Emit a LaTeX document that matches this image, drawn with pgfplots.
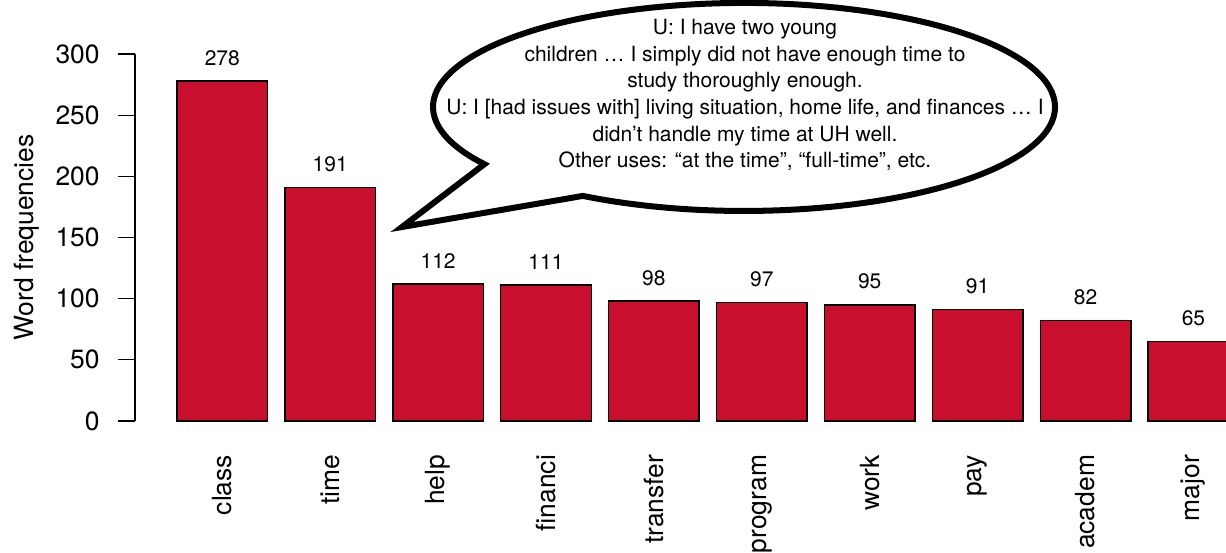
\documentclass[border=0pt]{standalone}
\usepackage{fontspec}
\setmainfont{TeX Gyre Heros}
\usepackage{pgfplots}
\pgfplotsset{compat=1.18}
\definecolor{uhred}{RGB}{200,16,46}
\begin{document}
\begin{tikzpicture}
\path[use as bounding box, clip] (-67.5pt,-65.5pt) rectangle (545.5pt,210.5pt);
\begin{axis}[
  scale only axis, width=545.5pt, height=183.5pt,
  xmin=-0.809, xmax=9.302, ymin=0, ymax=300,
  axis x line*=bottom, axis y line*=left,
  x axis line style={draw=none},
  y axis line style={line width=0.6pt},
  ytick={0,50,...,300},
  xtick={0,...,9},
  xticklabels={class,time,help,financi,transfer,program,work,pay,academ,major},
  tick align=outside,
  major tick length=8.5pt,
  xtick style={draw=none},
  ytick style={line width=0.6pt, black},
  /pgf/number format/assume math mode=true,
  tick label style={font=\fontsize{13.2}{15}\selectfont},
  yticklabel style={anchor=east, inner sep=0pt, xshift=-9pt},
  xticklabel style={yshift=-8.3pt, rotate=90, anchor=east, inner sep=0pt},
  ylabel={Word frequencies},
  ylabel style={font=\fontsize{13.2}{15}\selectfont, at={(axis description cs:-0.111,0.5)}, anchor=north, inner sep=0pt},
  clip=false,
  ybar, bar width=0.839,
  nodes near coords,
  every node near coord/.append style={font=\fontsize{10.5}{12}\selectfont, anchor=base, inner sep=0pt, yshift=7.9pt},
]
\addplot[fill=uhred, draw=black, line width=0.75pt] coordinates {(0,278) (1,191) (2,112) (3,111) (4,98) (5,97) (6,95) (7,91) (8,82) (9,65)};
\end{axis}
\begin{scope}[shift={(-67.5pt,210.5pt)}, x=0.5pt, y=-0.5pt]
\draw[line width=3pt, fill=white, line join=miter] (582.9,195.9) arc[start angle=121.2, end angle=-213.4, x radius=311, y radius=104] -- (402,227) -- cycle;
\node[align=center, font=\fontsize{10.5}{13.3}\selectfont, inner sep=0pt] at (745,95) {U: I have two young\\ children … I simply did not have enough time to\\ study thoroughly enough.\\ U: I [had issues with] living situation, home life, and finances … I\\ didn’t handle my time at UH well.\\ Other uses: “at the time”, “full-time”, etc.};
\end{scope}
\end{tikzpicture}
\end{document}
